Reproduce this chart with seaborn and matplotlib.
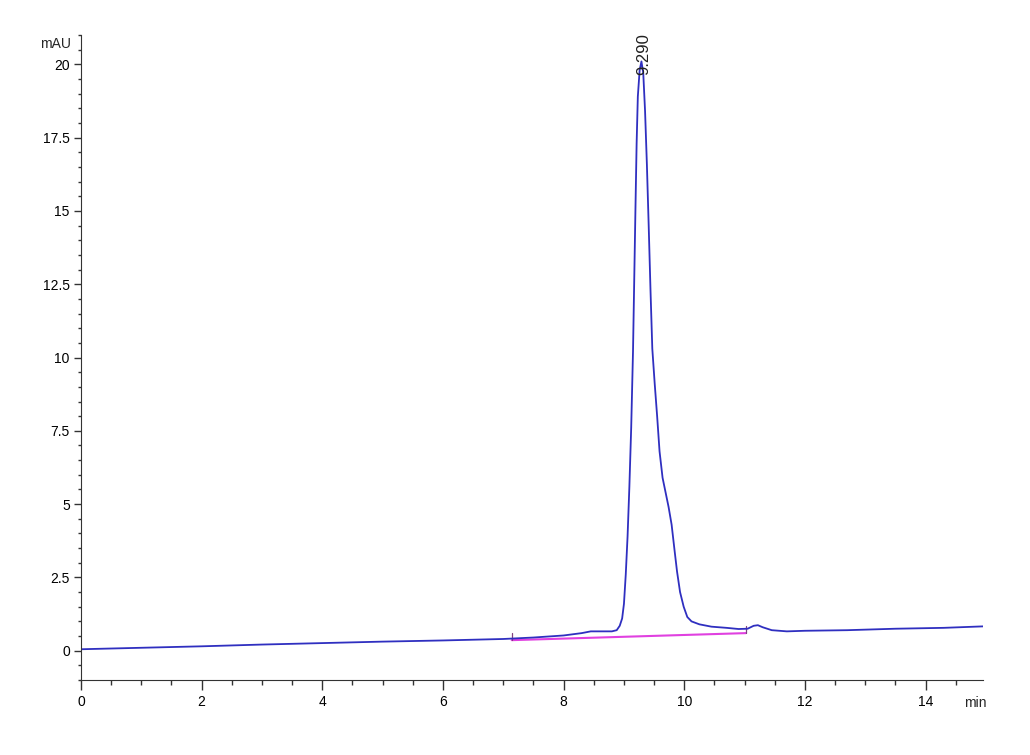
import numpy as np
import pandas as pd
import seaborn as sns
from matplotlib import pyplot as plt
from matplotlib.ticker import MultipleLocator

# chromatogram trace (min, mAU)
time_min = [0.0, 1.0, 2.0, 3.0, 4.0, 5.0, 6.0, 7.0, 7.5, 8.0, 8.3, 8.45, 8.6, 8.8,
            8.88, 8.93, 8.97, 9.00, 9.03, 9.06, 9.09, 9.12, 9.15, 9.17, 9.19, 9.21,
            9.23, 9.26, 9.29, 9.32, 9.35, 9.38, 9.41, 9.44, 9.47, 9.51, 9.55, 9.59,
            9.64, 9.69, 9.74, 9.79, 9.84, 9.88, 9.93, 9.99, 10.05, 10.12, 10.25,
            10.45, 10.7, 10.9, 11.05, 11.15, 11.22, 11.3, 11.45, 11.7, 12.0, 12.7,
            13.5, 14.3, 14.95]
signal_mau = [0.05, 0.10, 0.15, 0.21, 0.26, 0.31, 0.35, 0.40, 0.45, 0.52, 0.60, 0.66,
              0.66, 0.66, 0.70, 0.85, 1.1, 1.6, 2.6, 3.9, 5.6, 7.6, 10.2, 12.6, 15.0,
              17.3, 18.9, 19.8, 20.1, 19.7, 18.4, 16.6, 14.5, 12.3, 10.3, 9.1, 8.0,
              6.8, 5.9, 5.4, 4.9, 4.3, 3.4, 2.7, 2.0, 1.5, 1.15, 1.0, 0.90, 0.82,
              0.78, 0.74, 0.75, 0.85, 0.87, 0.80, 0.70, 0.66, 0.68, 0.70, 0.75, 0.78,
              0.83]

# integration baseline under the peak
base_time = [7.14, 11.02]
base_mau = [0.36, 0.60]

peak_time = 9.29
peak_mau = 20.1
peak_label = "9.290"

df = pd.DataFrame({'Time': time_min, 'Signal': signal_mau})
base = pd.DataFrame({'Time': base_time, 'Signal': base_mau})

sns.set_style('ticks')
plt.rcParams['font.family'] = ['Liberation Sans', 'DejaVu Sans']

fig = plt.figure(figsize=(10.3, 7.55), dpi=100)
ax = fig.add_axes([0.0786, 0.0993, 0.8757, 0.8543])

# baseline first, trace on top
sns.lineplot(x='Time', y='Signal', data=base, ax=ax, color='#e040e0', lw=1.5)
for t, s in zip(base_time, base_mau):
    ax.plot([t, t], [s, s + 0.25], color='#804080', lw=0.9)
sns.lineplot(x='Time', y='Signal', data=df, ax=ax, color='#2f2fc0', lw=1.3)

ax.text(peak_time + 0.04, peak_mau - 0.45, peak_label, rotation=90, ha='center', va='bottom',
        fontsize=12, color='#202020')

ax.set(xlim=(0, 14.95), ylim=(-1, 21), xlabel='', ylabel='')
ax.xaxis.set_major_locator(MultipleLocator(2))
ax.xaxis.set_minor_locator(MultipleLocator(0.5))
ax.yaxis.set_major_locator(MultipleLocator(2.5))
ax.yaxis.set_minor_locator(MultipleLocator(0.5))
ax.yaxis.set_major_formatter(plt.FuncFormatter(lambda v, p: f'{v:g}'))

sns.despine(ax=ax)
ax.spines['left'].set_color('#333333')
ax.spines['bottom'].set_color('#333333')
ax.tick_params(axis='x', which='major', length=7, width=1, pad=4, labelsize=10,
               color='#333333', labelcolor='black')
ax.tick_params(axis='x', which='minor', length=3.5, width=1, color='#333333')
ax.tick_params(axis='y', which='major', length=5, width=1, pad=3, labelsize=10,
               color='#333333', labelcolor='black')
ax.tick_params(axis='y', which='minor', length=2.5, width=1, color='#333333')

fig.text(56 / 1030, 1 - 44 / 755, 'mAU', ha='center', va='center', fontsize=10)
fig.text(975 / 1030, 1 - 703 / 755, 'min', ha='center', va='center', fontsize=10)

fig.savefig('out.png', dpi=100)
